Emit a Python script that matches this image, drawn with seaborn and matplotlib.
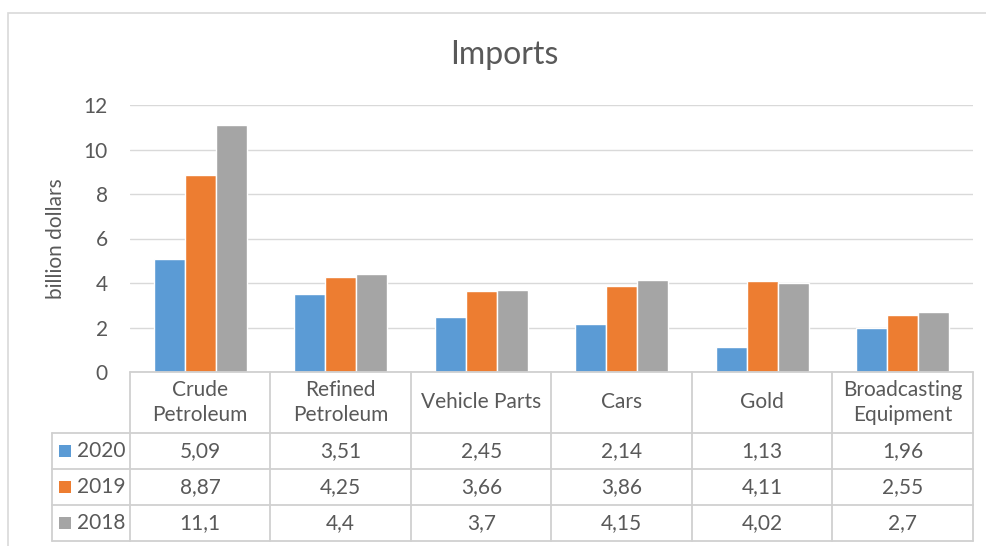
import matplotlib
matplotlib.use("Agg")
import matplotlib.pyplot as plt
from matplotlib.patches import Rectangle
from matplotlib.lines import Line2D
from matplotlib.transforms import blended_transform_factory
import pandas as pd
import seaborn as sns

# Import values, billion dollars
categories = ["Crude\nPetroleum", "Refined\nPetroleum", "Vehicle Parts", "Cars", "Gold",
              "Broadcasting\nEquipment"]
years = ["2020", "2019", "2018"]
values_2020 = [5.09, 3.51, 2.45, 2.14, 1.13, 1.96]
values_2019 = [8.87, 4.25, 3.66, 3.86, 4.11, 2.55]
values_2018 = [11.1, 4.4, 3.7, 4.15, 4.02, 2.7]
y_ticks = [0, 2, 4, 6, 8, 10, 12]

series = {"2020": values_2020, "2019": values_2019, "2018": values_2018}
colors = {"2020": "#5B9BD5", "2019": "#ED7D31", "2018": "#A5A5A5"}

df = pd.DataFrame(
    [(c, y, v) for y in years for c, v in zip(categories, series[y])],
    columns=["category", "year", "value"],
)

sns.set_theme(style="white")
plt.rcParams["font.family"] = ["Lato", "DejaVu Sans"]
TXT = "#595959"
LINE = "#D9D9D9"
FS = 15

W, H = 987, 546
fig = plt.figure(figsize=(W / 100, H / 100), dpi=100)
fig.patch.set_facecolor("white")


def fx(px):
    return px / W


def fy(py):
    return 1 - py / H


# outer chart frame
fig.patches.append(Rectangle((fx(8), fy(560)), fx(1000) - fx(8), fy(12.5) - fy(560),
                             transform=fig.transFigure, fill=False, edgecolor=LINE, lw=1.2))

left, right, top, bottom = 130, 973, 105, 372
ax = fig.add_axes([fx(left), fy(bottom), fx(right) - fx(left), fy(top) - fy(bottom)])

sns.barplot(data=df, x="category", y="value", hue="year", hue_order=years,
            order=categories, palette=colors, width=0.66, saturation=1,
            legend=False, ax=ax)

ax.set_xlim(-0.5, len(categories) - 0.5)
ax.set_ylim(0, 12)
ax.set_yticks(y_ticks)
ax.set_yticklabels([str(t) for t in y_ticks], color=TXT, fontsize=FS)
ax.tick_params(axis="y", length=0, pad=16)
ax.set_xticks([])
ax.set_xlabel("")
ax.set_ylabel("billion dollars", color=TXT, fontsize=FS)
ax.yaxis.set_label_coords(fx(56), 0.5,
                          transform=blended_transform_factory(fig.transFigure, ax.transAxes))
ax.yaxis.label.set_va("center")
ax.grid(axis="y", color=LINE, lw=1)
ax.set_axisbelow(True)
for s in ax.spines.values():
    s.set_visible(False)

fig.text(fx(504), fy(55), "Imports", color=TXT, fontsize=23, ha="center", va="center")

# data table below the axis
tb = blended_transform_factory(ax.transData, fig.transFigure)
TBL = "#D0D0D0"
header_top, header_bot = 372, 433
row_edges = [433, 469, 505, 541]
n = len(categories)

# horizontal lines over category columns
for yy in [header_top] + row_edges:
    fig.add_artist(Line2D([-0.5, n - 0.5], [fy(yy), fy(yy)], transform=tb, color=TBL, lw=1.3))
# legend column horizontal lines
for yy in row_edges:
    fig.add_artist(Line2D([fx(52), fx(left)], [fy(yy), fy(yy)], transform=fig.transFigure,
                          color=TBL, lw=1.3))
# vertical lines
for i in range(n + 1):
    xb = i - 0.5
    fig.add_artist(Line2D([xb, xb], [fy(header_top), fy(row_edges[-1])], transform=tb,
                          color=TBL, lw=1.3))
fig.add_artist(Line2D([fx(52), fx(52)], [fy(row_edges[0]), fy(row_edges[-1])],
                      transform=fig.transFigure, color=TBL, lw=1.3))

for i, c in enumerate(categories):
    fig.text(i, fy((header_top + header_bot) / 2), c, transform=tb, ha="center",
             va="center", color=TXT, fontsize=FS, linespacing=1.3)

for r, y in enumerate(years):
    yc = fy((row_edges[r] + row_edges[r + 1]) / 2)
    fig.patches.append(Rectangle((fx(59), yc - 6 / H), 12 / W, 12 / H,
                                 transform=fig.transFigure, facecolor=colors[y],
                                 edgecolor="none"))
    fig.text(fx(77), yc, y, ha="left", va="center", color=TXT, fontsize=FS)
    for i, v in enumerate(series[y]):
        fig.text(i, yc, f"{v:g}".replace(".", ","), transform=tb, ha="center",
                 va="center", color=TXT, fontsize=FS)

fig.savefig("out.png", dpi=100, facecolor="white")
